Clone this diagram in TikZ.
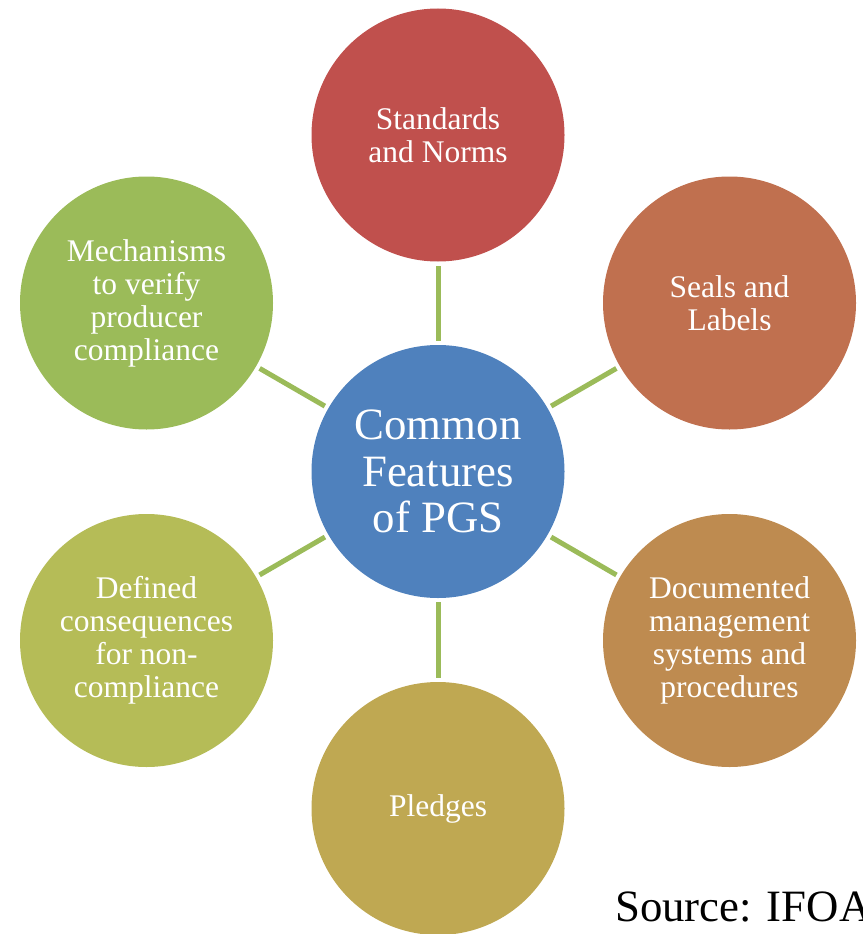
\documentclass[tikz,border=0pt]{standalone}
\usepackage{fontspec}
\setmainfont{Liberation Serif}
\definecolor{cblue}{HTML}{4F81BD}
\definecolor{cred}{HTML}{C0504D}
\definecolor{cseal}{HTML}{C0704F}
\definecolor{cdoc}{HTML}{BE8B50}
\definecolor{cpledge}{HTML}{BFA852}
\definecolor{cdef}{HTML}{B5BC57}
\definecolor{cmech}{HTML}{9BBB59}
\definecolor{cline}{HTML}{9BBB59}
\tikzset{
  outer/.style={circle, minimum size=253pt, inner sep=0pt, text=white, align=center,
    font=\fontsize{31.5}{33}\selectfont},
  hub/.style={circle, minimum size=253pt, inner sep=0pt, text=white, align=center,
    fill=cblue, font=\fontsize{44.8}{46.5}\selectfont},
  conn/.style={draw=cline, line width=5pt, shorten <=4pt, shorten >=4pt}
}
\begin{document}
\begin{tikzpicture}[x=1pt,y=-1pt]
\useasboundingbox (0,0) rectangle (862,934);
\node[hub] (c) at (438,471.5) {Common\\Features\\of PGS};
\node[outer, fill=cred] (n1) at (438,135) {Standards\\and Norms};
\node[outer, fill=cseal] (n2) at (729.5,303) {Seals and\\Labels};
\node[outer, fill=cdoc] (n3) at (729.5,640.5) {Documented\\management\\systems and\\procedures};
\node[outer, fill=cpledge] (n4) at (438,808.5) {Pledges};
\node[outer, fill=cdef] (n5) at (146.5,640.5) {Defined\\consequences\\for non-\\compliance};
\node[outer, fill=cmech] (n6) at (146.5,303) {Mechanisms\\to verify\\producer\\compliance};
\foreach \n in {n1,n2,n3,n4,n5,n6} \draw[conn] (c) -- (\n);
\node[anchor=base west, inner sep=0pt, font=\fontsize{44.8}{46.5}\selectfont] (src) at (615,921.7) {Source: IFOA};
\end{tikzpicture}
\end{document}
